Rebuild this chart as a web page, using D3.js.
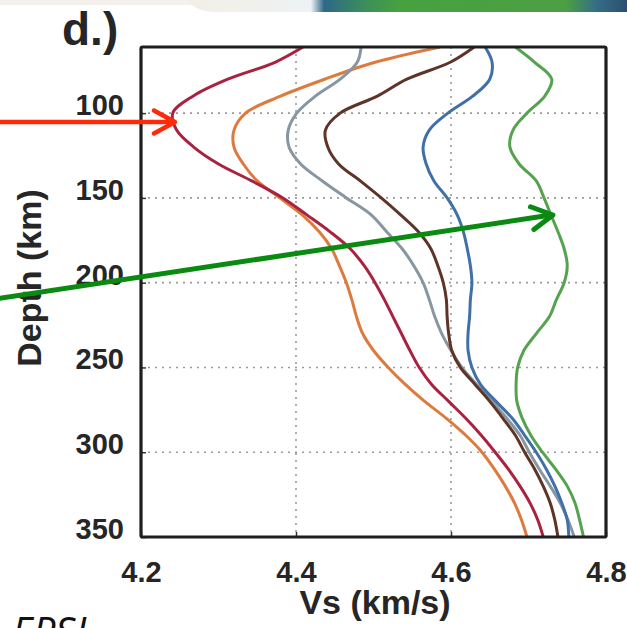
<!DOCTYPE html>
<html>
<head>
<meta charset="utf-8">
<script src="https://cdn.jsdelivr.net/npm/d3@7"></script>
<style>
  html, body { margin: 0; padding: 0; background: #fff; }
  svg { display: block; }
</style>
</head>
<body>
<svg id="chart" width="627" height="628"></svg>
<script>
// Shear-wave velocity profiles against depth
const depthKm = [61, 70, 80, 90, 100, 110, 120, 130, 140, 150, 160, 170, 180, 190, 200,
                 210, 220, 230, 240, 250, 260, 270, 280, 290, 300, 310, 320, 330, 340, 350];

const vsCrimson = [4.409, 4.373, 4.312, 4.267, 4.241, 4.246, 4.268, 4.300, 4.343, 4.383,
                   4.414, 4.444, 4.470, 4.488, 4.502, 4.514, 4.525, 4.536, 4.547, 4.559,
                   4.575, 4.597, 4.619, 4.639, 4.657, 4.674, 4.689, 4.702, 4.712, 4.719];
const vsOrange  = [4.586, 4.502, 4.437, 4.380, 4.335, 4.320, 4.320, 4.332, 4.350, 4.379,
                   4.408, 4.430, 4.446, 4.456, 4.465, 4.472, 4.478, 4.486, 4.500, 4.519,
                   4.541, 4.566, 4.594, 4.619, 4.640, 4.656, 4.670, 4.682, 4.691, 4.698];
const vsGrey    = [4.484, 4.479, 4.457, 4.425, 4.401, 4.390, 4.391, 4.406, 4.434, 4.465,
                   4.497, 4.517, 4.537, 4.552, 4.564, 4.572, 4.579, 4.588, 4.600, 4.614,
                   4.633, 4.653, 4.672, 4.689, 4.701, 4.714, 4.728, 4.741, 4.751, 4.759];
const vsBrown   = [4.630, 4.599, 4.543, 4.505, 4.457, 4.438, 4.441, 4.455, 4.483, 4.510,
                   4.535, 4.558, 4.574, 4.583, 4.590, 4.594, 4.595, 4.597, 4.601, 4.612,
                   4.631, 4.650, 4.667, 4.683, 4.695, 4.708, 4.719, 4.728, 4.734, 4.738];
const vsBlue    = [4.644, 4.653, 4.650, 4.628, 4.596, 4.572, 4.564, 4.568, 4.578, 4.595,
                   4.608, 4.616, 4.621, 4.625, 4.627, 4.625, 4.624, 4.622, 4.622, 4.627,
                   4.638, 4.658, 4.679, 4.695, 4.710, 4.723, 4.734, 4.743, 4.750, 4.752];
const vsGreen   = [4.683, 4.708, 4.730, 4.721, 4.698, 4.680, 4.676, 4.688, 4.710, 4.720,
                   4.729, 4.738, 4.746, 4.750, 4.746, 4.736, 4.727, 4.710, 4.694, 4.686,
                   4.684, 4.685, 4.692, 4.703, 4.718, 4.735, 4.750, 4.760, 4.766, 4.771];

const profiles = [
  { values: vsOrange,  color: "#dd7a3d" },
  { values: vsCrimson, color: "#aa2240" },
  { values: vsGrey,    color: "#8797a1" },
  { values: vsBrown,   color: "#5f3428" },
  { values: vsBlue,    color: "#4070a8" },
  { values: vsGreen,   color: "#55a24f" }
];

const xTicks = [4.2, 4.4, 4.6, 4.8];
const yTicks = [100, 150, 200, 250, 300, 350];
const xGrid = [4.4, 4.6];
const yGrid = [100, 150, 200, 250, 300];

const panelLabel = "d.)";
const xTitle = "Vs (km/s)";
const yTitle = "Depth (km)";
const footerText = "EPSL";

const svg = d3.select("#chart");
const W = 627, H = 628;
const plot = { left: 141, right: 606, top: 47, bottom: 537 };

const x = d3.scaleLinear().domain([4.2, 4.8]).range([plot.left, plot.right]);
const y = d3.scaleLinear().domain([61, 350]).range([plot.top, plot.bottom]);

const defs = svg.append("defs");

// slide header band along the top edge
const band = defs.append("linearGradient").attr("id", "band")
  .attr("x1", "0").attr("x2", "1").attr("y1", "0").attr("y2", "0");
[[0, "#f3efe6"], [0.28, "#eef2f4"], [0.31, "#2f6787"], [0.40, "#3c8d5c"],
 [0.48, "#47a13f"], [0.86, "#4c9f43"], [0.93, "#356e86"], [1, "#2b4e70"]]
  .forEach(([o, c]) => band.append("stop").attr("offset", o).attr("stop-color", c));
svg.append("rect").attr("x", 0).attr("y", 0).attr("width", W).attr("height", 5)
  .attr("fill", "#f4f1ec");
svg.append("path")
  .attr("d", "M188,0 L627,0 L627,12 L214,12 Q194,11 188,0 Z")
  .attr("fill", "url(#band)");

defs.append("clipPath").attr("id", "plotClip")
  .append("rect")
  .attr("x", plot.left).attr("y", plot.top)
  .attr("width", plot.right - plot.left).attr("height", plot.bottom - plot.top);

// dotted grid
const grid = svg.append("g").attr("stroke", "#9a9a9a").attr("stroke-width", 1.6)
  .attr("stroke-dasharray", "2,5");
grid.selectAll("line.gx").data(xGrid).join("line")
  .attr("x1", d => x(d)).attr("x2", d => x(d))
  .attr("y1", plot.top).attr("y2", plot.bottom);
grid.selectAll("line.gy").data(yGrid).join("line")
  .attr("y1", d => y(d)).attr("y2", d => y(d))
  .attr("x1", plot.left).attr("x2", plot.right);

// profiles
const line = d3.line()
  .x(d => x(d[1]))
  .y(d => y(d[0]))
  .curve(d3.curveCatmullRom.alpha(0.5));

svg.append("g").attr("clip-path", "url(#plotClip)")
  .selectAll("path").data(profiles).join("path")
  .attr("d", p => line(depthKm.map((dk, i) => [dk, p.values[i]])))
  .attr("fill", "none")
  .attr("stroke", p => p.color)
  .attr("stroke-width", 3)
  .attr("stroke-linejoin", "round");

// axes drawn with d3-axis, then restyled
const fontBold = "'Liberation Sans', Arial, sans-serif";
const xAxis = svg.append("g").attr("transform", `translate(0,${plot.bottom})`)
  .call(d3.axisBottom(x).tickValues(xTicks).tickFormat(d3.format(".1f")).tickSize(-5).tickPadding(24));
const yAxis = svg.append("g").attr("transform", `translate(${plot.left},0)`)
  .call(d3.axisLeft(y).tickValues(yTicks).tickFormat(d3.format("d")).tickSize(-5).tickPadding(17));

[xAxis, yAxis].forEach(a => {
  a.select(".domain").remove();
  a.selectAll(".tick line").attr("stroke", "#333").attr("stroke-width", 1.5);
  a.selectAll(".tick text")
    .attr("fill", "#262626")
    .style("font-family", fontBold)
    .style("font-weight", "bold")
    .style("font-size", "29px");
});
xAxis.selectAll(".tick text").attr("y", 45).attr("dy", "0");
yAxis.selectAll(".tick text").attr("dy", "0.05em");

// frame
svg.append("rect")
  .attr("x", plot.left).attr("y", plot.top)
  .attr("width", plot.right - plot.left).attr("height", plot.bottom - plot.top)
  .attr("fill", "none").attr("stroke", "#1e1e1e").attr("stroke-width", 3.2)
  .attr("rx", 1.5);

svg.append("text").text(xTitle)
  .attr("x", 375).attr("y", 614)
  .attr("text-anchor", "middle").attr("fill", "#262626")
  .style("font-family", fontBold).style("font-weight", "bold").style("font-size", "34px");
svg.append("text").text(yTitle)
  .attr("transform", `translate(41,278) rotate(-90)`)
  .attr("text-anchor", "middle").attr("fill", "#262626")
  .style("font-family", fontBold).style("font-weight", "bold").style("font-size", "34px");
svg.append("text").text(panelLabel)
  .attr("x", 62).attr("y", 45).attr("fill", "#262626")
  .style("font-family", fontBold).style("font-weight", "bold").style("font-size", "46px");

// annotation arrows
function arrow(x0, y0, x1, y1, color, w) {
  const g = svg.append("g").attr("stroke", color).attr("stroke-width", w)
    .attr("fill", "none").attr("stroke-linecap", "round").attr("stroke-linejoin", "round");
  g.append("line").attr("x1", x0).attr("y1", y0).attr("x2", x1 - 2).attr("y2", y1);
  const ang = Math.atan2(y1 - y0, x1 - x0);
  const len = 24, spread = 0.5;
  const p1 = [x1 - len * Math.cos(ang - spread), y1 - len * Math.sin(ang - spread)];
  const p2 = [x1 - len * Math.cos(ang + spread), y1 - len * Math.sin(ang + spread)];
  g.append("path").attr("d", `M${p1[0]},${p1[1]} L${x1},${y1} L${p2[0]},${p2[1]}`);
}
arrow(-5, 122, 175, 122, "#ff2a0a", 4.5);
arrow(-5, 299, 553, 215, "#0a8a10", 5);

svg.append("text").text(footerText)
  .attr("x", 12).attr("y", 646).attr("fill", "#111")
  .style("font-family", "'Open Sans', sans-serif").style("font-style", "italic")
  .style("font-size", "40px");
</script>
</body>
</html>
